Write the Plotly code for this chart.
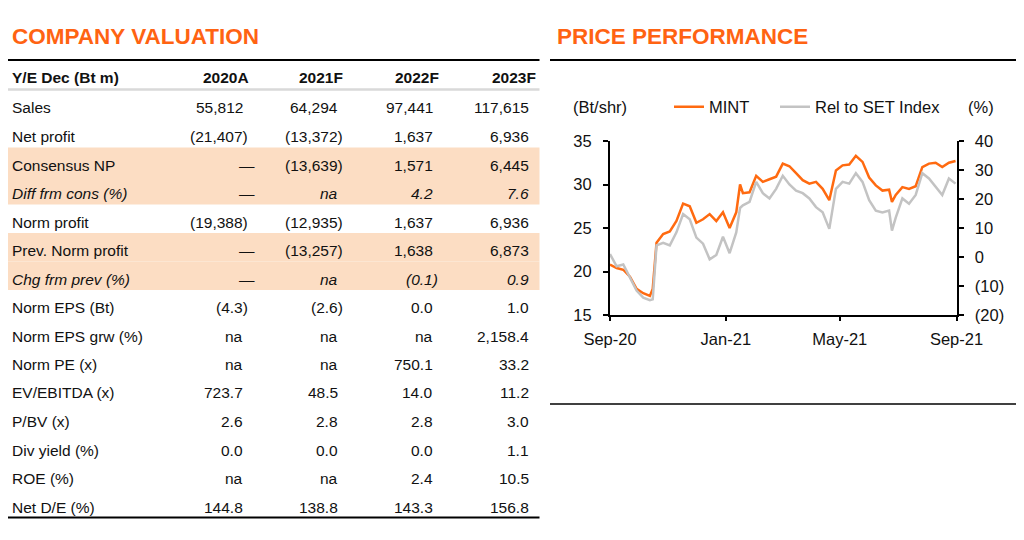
import plotly.graph_objects as go

# ---- table data (Bt m) ----
row_labels = ["Sales", "Net profit", "Consensus NP", "Diff frm cons (%)", "Norm profit",
              "Prev. Norm profit", "Chg frm prev (%)", "Norm EPS (Bt)", "Norm EPS grw (%)",
              "Norm PE (x)", "EV/EBITDA (x)", "P/BV (x)", "Div yield (%)", "ROE (%)", "Net D/E (%)"]
col_headers = ["2020A", "2021F", "2022F", "2023F"]
val_2020A = ["55,812", "(21,407)", "\u2014", "\u2014", "(19,388)", "\u2014", "\u2014", "(4.3)", "na",
             "na", "723.7", "2.6", "0.0", "na", "144.8"]
val_2021F = ["64,294", "(13,372)", "(13,639)", "na", "(12,935)", "(13,257)", "na", "(2.6)", "na",
             "na", "48.5", "2.8", "0.0", "na", "138.8"]
val_2022F = ["97,441", "1,637", "1,571", "4.2", "1,637", "1,638", "(0.1)", "0.0", "na",
             "750.1", "14.0", "2.8", "0.0", "2.4", "143.3"]
val_2023F = ["117,615", "6,936", "6,445", "7.6", "6,936", "6,873", "0.9", "1.0", "2,158.4",
             "33.2", "11.2", "3.0", "1.1", "10.5", "156.8"]
shaded_rows = ["Consensus NP", "Diff frm cons (%)", "Prev. Norm profit", "Chg frm prev (%)"]
italic_rows = ["Diff frm cons (%)", "Chg frm prev (%)"]

# ---- price performance data ----
dates = ["2020-09-01", "2020-09-08", "2020-09-15", "2020-09-22", "2020-09-29", "2020-10-06",
         "2020-10-13", "2020-10-16", "2020-10-20", "2020-10-27", "2020-11-03", "2020-11-10",
         "2020-11-17", "2020-11-24", "2020-12-01", "2020-12-08", "2020-12-15", "2020-12-22",
         "2020-12-29", "2021-01-05", "2021-01-12", "2021-01-16", "2021-01-19", "2021-01-26",
         "2021-02-02", "2021-02-09", "2021-02-16", "2021-02-23", "2021-03-02", "2021-03-09",
         "2021-03-16", "2021-03-23", "2021-03-30", "2021-04-06", "2021-04-13", "2021-04-20",
         "2021-04-27", "2021-05-04", "2021-05-11", "2021-05-18", "2021-05-25", "2021-06-01",
         "2021-06-08", "2021-06-15", "2021-06-22", "2021-06-25", "2021-06-29", "2021-07-06",
         "2021-07-13", "2021-07-20", "2021-07-27", "2021-08-03", "2021-08-10", "2021-08-17",
         "2021-08-24", "2021-08-31"]
mint_price = [20.8, 20.4, 20.2, 19.4, 18.0, 17.5, 17.2, 18.0, 23.3, 24.3, 24.6, 25.8,
              27.8, 27.5, 25.6, 26.0, 26.6, 25.8, 26.8, 25.0, 26.8, 30.0, 29.0, 29.1,
              31.0, 30.3, 30.6, 30.9, 32.4, 32.1, 31.3, 30.5, 30.1, 30.3, 29.5, 28.2,
              31.6, 32.2, 32.3, 33.3, 32.6, 30.8, 29.9, 29.3, 29.4, 28.0, 28.8, 29.7,
              29.5, 29.8, 32.0, 32.4, 32.5, 32.0, 32.5, 32.7]
rel_set = [1.0, -3.2, -2.6, -7.1, -11.6, -14.0, -14.9, -14.6, 4.0, 4.9, 4.0, 8.5,
           14.8, 13.0, 6.7, 4.6, -0.8, 0.7, 7.0, 1.3, 8.5, 16.9, 17.8, 19.0,
           25.9, 22.0, 20.2, 23.5, 28.0, 25.0, 22.9, 22.0, 20.2, 17.2, 15.4, 9.7,
           23.5, 25.9, 25.3, 28.9, 25.9, 19.6, 16.0, 15.4, 16.0, 9.1, 13.6, 20.2,
           18.4, 21.4, 28.9, 27.1, 24.1, 21.4, 27.1, 25.3]
x_ticks = ["2020-09-01", "2021-01-01", "2021-05-01", "2021-09-01"]
x_tick_labels = ["Sep-20", "Jan-21", "May-21", "Sep-21"]
left_ticks = [15, 20, 25, 30, 35]
right_ticks = [-20, -10, 0, 10, 20, 30, 40]
right_tick_labels = ["(20)", "(10)", "0", "10", "20", "30", "40"]

W, H = 1024, 540
OFF = 8  # page body margin
ORANGE = "#FF6312"
SHADE = "#FCDDC3"
FONT = "Liberation Sans, Arial, sans-serif"


def fx(x):
    return (x - OFF) / W


def fy(y):
    return 1 - (y - OFF) / H


def note(text, x, y, anchor, size=15.5, color=None):
    f = dict(size=size)
    if color:
        f["color"] = color
    return dict(text=text, x=fx(x), y=fy(y), xref="paper", yref="paper", xanchor=anchor,
                yanchor="middle", showarrow=False, font=f)


fig = go.Figure()
fig.add_trace(go.Scatter(x=dates, y=rel_set, name="Rel to SET Index", mode="lines",
                         line=dict(color="#C3C3C3", width=2.5), yaxis="y2", legend="legend2"))
fig.add_trace(go.Scatter(x=dates, y=mint_price, name="MINT", mode="lines",
                         line=dict(color="#FF6A10", width=2.5), yaxis="y", legend="legend"))

shapes = []
annotations = []

# titles and rules
annotations.append(note("<b>COMPANY VALUATION</b>", 9.5, 37, "left", 22.5, ORANGE))
annotations.append(note("<b>PRICE PERFORMANCE</b>", 555, 37, "left", 22.5, ORANGE))
rule = dict(type="line", xref="paper", yref="paper", line=dict(color="black", width=2))
shapes.append(dict(rule, x0=fx(6), x1=fx(539.5), y0=fy(60), y1=fy(60)))
shapes.append(dict(rule, x0=fx(550), x1=fx(1017), y0=fy(60), y1=fy(60)))
shapes.append(dict(rule, x0=fx(6), x1=fx(539.5), y0=fy(517.5), y1=fy(517.5)))
shapes.append(dict(rule, x0=fx(550), x1=fx(1017), y0=fy(404), y1=fy(404),
                   line=dict(color="black", width=1.5)))
shapes.append(dict(type="line", xref="paper", yref="paper", x0=fx(6), x1=fx(539.5),
                   y0=fy(89.5), y1=fy(89.5), line=dict(color="#D9D9D9", width=2.5)))

# table header
hdr_right = [250.7, 344.5, 440.8, 537.5]
annotations.append(note("<b>Y/E Dec (Bt m)</b>", 9.5, 77, "left"))
for h, xr in zip(col_headers, hdr_right):
    annotations.append(note("<b>%s</b>" % h, xr, 77, "right"))

# table body
col_right = [245, 340, 434.6, 530.5]
columns = [val_2020A, val_2021F, val_2022F, val_2023F]
row_h = 28.5
for i, lab in enumerate(row_labels):
    yc = 108 + row_h * i
    if lab in shaded_rows:
        shapes.append(dict(type="rect", xref="paper", yref="paper", x0=fx(6), x1=fx(539.5),
                           y0=fy(yc - 17.5), y1=fy(yc + 11), fillcolor=SHADE,
                           line=dict(width=0), layer="below"))
    it = lab in italic_rows
    wrap = (lambda s: "<i>%s</i>" % s) if it else (lambda s: s)
    annotations.append(note(wrap(lab), 9.5, yc, "left"))
    for col, xr in zip(columns, col_right):
        v = col[i]
        if v.endswith(")"):
            xr = xr + 5
        elif v == "\u2014":
            xr = xr + 12
        annotations.append(note(wrap(v), xr, yc, "right"))

# chart unit labels
annotations.append(note("(Bt/shr)", 571, 107, "left", 16.5))
annotations.append(note("(%)", 966, 107, "left", 16.5))

axis_common = dict(showline=True, linecolor="black", linewidth=2, ticks="outside",
                   tickcolor="black", tickwidth=2, showgrid=False, zeroline=False,
                   tickfont=dict(size=16.5, color="#111111"))
leg_common = dict(orientation="h", yanchor="middle", xanchor="left", font=dict(size=16.5),
                  bgcolor="rgba(0,0,0,0)", borderwidth=0)

fig.update_layout(
    width=W, height=H, autosize=False,
    margin=dict(l=0, r=0, t=0, b=0, autoexpand=False),
    paper_bgcolor="white", plot_bgcolor="white",
    font=dict(family=FONT, color="#111111", size=15.5),
    showlegend=True,
    legend=dict(leg_common, x=fx(669), y=fy(107)),
    legend2=dict(leg_common, x=fx(775), y=fy(107)),
    xaxis=dict(axis_common, domain=[fx(610), fx(956.5)], range=["2020-09-01", "2021-09-01"],
               tickvals=x_ticks, ticktext=x_tick_labels, ticklen=4, ticklabelstandoff=4,
               anchor="y"),
    yaxis=dict(axis_common, domain=[fy(315), fy(141)], range=[15, 35], tickvals=left_ticks,
               ticklen=5, ticklabelstandoff=8, anchor="x"),
    yaxis2=dict(axis_common, domain=[fy(315), fy(141)], range=[-20, 40], tickvals=right_ticks,
                ticktext=right_tick_labels, overlaying="y", side="right", anchor="x",
                ticklen=5, ticklabelstandoff=8),
    shapes=shapes,
    annotations=annotations,
)

fig.write_html("out.html")
